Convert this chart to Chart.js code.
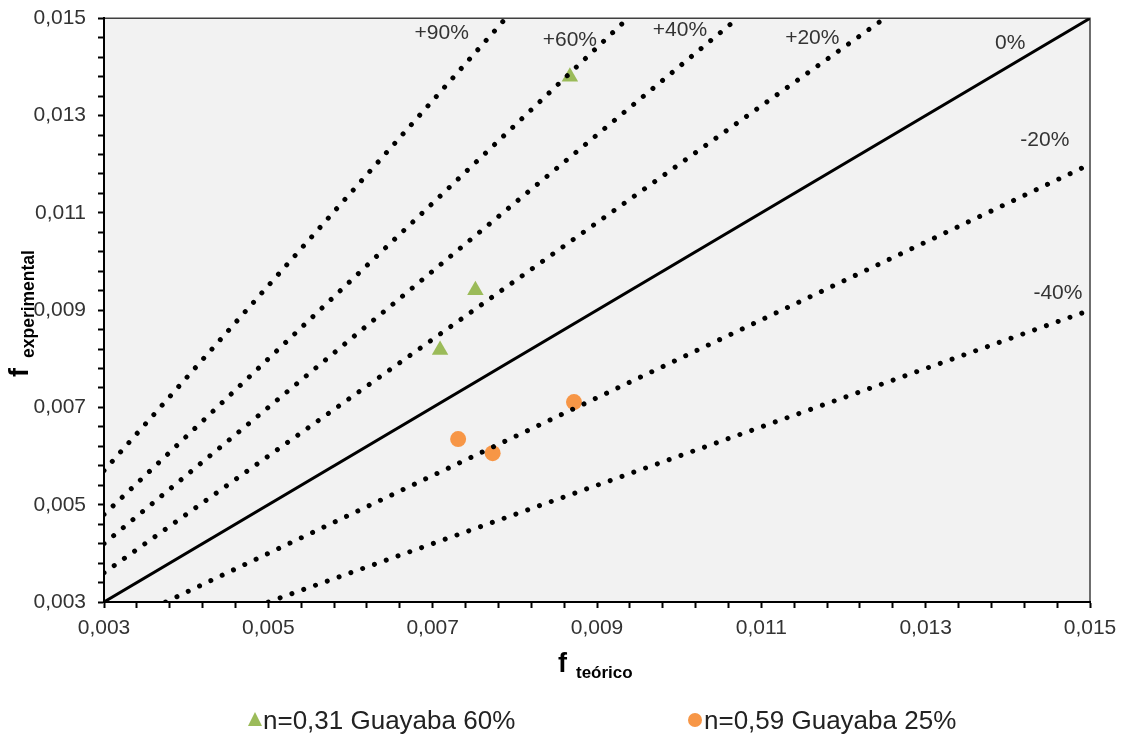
<!DOCTYPE html>
<html>
<head>
<meta charset="utf-8">
<script src="https://cdn.jsdelivr.net/npm/chart.js@4.4.0/dist/chart.umd.min.js"></script>
<style>
  body { margin: 0; background: #fff; }
  #wrap { width: 1125px; height: 735px; }
</style>
</head>
<body>
<div id="wrap"><canvas id="myChart"></canvas></div>
<script>
// measured points (f teorico, f experimental)
const guayaba60X = [0.00867, 0.00752, 0.00709]
const guayaba60Y = [0.0138, 0.00941, 0.00818]
const guayaba25X = [0.00731, 0.00773, 0.00872]
const guayaba25Y = [0.00635, 0.00606, 0.00711]

// deviation lines, start and end
const refNames = ['+90%', '+60%', '+40%', '+20%', '0%', '-20%', '-40%']
const refX = [[0.003, 0.00789], [0.003, 0.009375], [0.003, 0.01071], [0.003, 0.0125], [0.003, 0.015], [0.00375, 0.015], [0.005, 0.015]]
const refY = [[0.0057, 0.015], [0.0048, 0.015], [0.0042, 0.015], [0.0036, 0.015], [0.003, 0.015], [0.003, 0.012], [0.003, 0.009]]
// where the line names sit
const refLabelX = [0.00711, 0.00867, 0.01001, 0.01162, 0.01403, 0.01445, 0.01461]
const refLabelY = [0.01469, 0.01455, 0.01475, 0.01459, 0.01449, 0.01249, 0.00935]

const axisMin = 0.003
const axisMax = 0.015
const minorStep = 0.0004
const tickValues = []
for (let i = 0; axisMin + i * minorStep <= axisMax + 1e-9; i++) {
    tickValues.push(+(axisMin + i * minorStep).toFixed(4))
}

const seriesNames = ['n=0,31 Guayaba 60%', 'n=0,59 Guayaba 25%']
const green = '#9BBB59'
const orange = '#F79646'

function toPoints(xs, ys) {
    return xs.map((x, i) => ({x: x, y: ys[i]}))
}

const datasets = [
    {
        label: seriesNames[0],
        data: toPoints(guayaba60X, guayaba60Y),
        pointStyle: 'triangle',
        pointRadius: 9.5,
        backgroundColor: green,
        borderColor: green,
        borderWidth: 0,
        showLine: false,
        order: 2
    },
    {
        label: seriesNames[1],
        data: toPoints(guayaba25X, guayaba25Y),
        pointStyle: 'circle',
        pointRadius: 8,
        backgroundColor: orange,
        borderColor: orange,
        borderWidth: 0,
        showLine: false,
        order: 2
    }
]
refNames.forEach((name, i) => {
    const solid = name === '0%'
    datasets.push({
        label: name,
        data: toPoints(refX[i], refY[i]),
        showLine: true,
        pointRadius: 0,
        borderColor: '#000',
        borderWidth: solid ? 3 : 5,
        borderDash: solid ? [] : [0.01, 12.5],
        borderCapStyle: solid ? 'butt' : 'round',
        order: 1
    })
})

const plotFrame = {
    id: 'plotFrame',
    beforeDraw(chart) {
        const {ctx, chartArea: a} = chart
        ctx.save()
        ctx.fillStyle = '#F2F2F2'
        ctx.fillRect(a.left, a.top, a.right - a.left, a.bottom - a.top)
        ctx.strokeStyle = '#404040'
        ctx.lineWidth = 1.5
        ctx.beginPath()
        ctx.moveTo(a.left, a.top)
        ctx.lineTo(a.right, a.top)
        ctx.lineTo(a.right, a.bottom)
        ctx.stroke()
        ctx.restore()
    },
    afterDatasetsDraw(chart) {
        const {ctx, scales: {x, y}} = chart
        ctx.save()
        ctx.fillStyle = '#333'
        ctx.font = '21px "Liberation Sans", Arial, sans-serif'
        ctx.textAlign = 'center'
        ctx.textBaseline = 'middle'
        refNames.forEach((name, i) => {
            ctx.fillText(name, x.getPixelForValue(refLabelX[i]), y.getPixelForValue(refLabelY[i]))
        })
        ctx.restore()
    },
    afterDraw(chart) {
        const {ctx} = chart
        ctx.save()
        ctx.fillStyle = '#000'
        ctx.textAlign = 'left'
        ctx.textBaseline = 'alphabetic'
        // x title
        ctx.font = 'bold 27px "Liberation Sans", Arial, sans-serif'
        ctx.fillText('f', 558, 672)
        ctx.font = 'bold 17px "Liberation Sans", Arial, sans-serif'
        ctx.fillText('teórico', 576, 678)
        // y title
        ctx.save()
        ctx.translate(28, 377)
        ctx.rotate(-Math.PI / 2)
        ctx.font = 'bold 27px "Liberation Sans", Arial, sans-serif'
        ctx.fillText('f', 0, 0)
        ctx.restore()
        ctx.save()
        ctx.translate(34, 358)
        ctx.rotate(-Math.PI / 2)
        ctx.font = 'bold 17.5px "Liberation Sans", Arial, sans-serif'
        ctx.fillText('experimental', 0, 0)
        ctx.restore()

        // legend
        ctx.font = '26px "Liberation Sans", Arial, sans-serif'
        ctx.fillStyle = '#222'
        ctx.fillText(seriesNames[0], 263, 729)
        ctx.fillText(seriesNames[1], 704, 729)
        ctx.fillStyle = green
        ctx.beginPath()
        ctx.moveTo(255, 712)
        ctx.lineTo(262, 726)
        ctx.lineTo(248, 726)
        ctx.closePath()
        ctx.fill()
        ctx.fillStyle = orange
        ctx.beginPath()
        ctx.arc(695, 720, 7, 0, Math.PI * 2)
        ctx.fill()
        ctx.restore()
    }
}

function axisOptions(isX) {
    return {
        type: 'linear',
        min: axisMin,
        max: axisMax,
        afterBuildTicks: scale => {
            scale.ticks = tickValues.map(v => ({value: v}))
        },
        afterFit: scale => {
            if (isX) scale.height = 133
            else scale.width = 104
        },
        ticks: {
            autoSkip: false,
            maxRotation: 0,
            padding: isX ? 8 : 12,
            color: '#333',
            font: {family: '"Liberation Sans", Arial, sans-serif', size: 21, lineHeight: isX ? 1.2 : 0.6},
            callback: (value, index) => index % 5 === 0 ? value.toFixed(3).replace('.', ',') : ''
        },
        grid: {
            drawOnChartArea: false,
            drawTicks: true,
            tickLength: 6,
            tickColor: '#000',
            tickWidth: 2
        },
        border: {display: true, color: '#000', width: 2}
    }
}

const ctx = document.getElementById('myChart').getContext('2d')
const myChart = new Chart(ctx, {
    type: 'scatter',
    data: {datasets: datasets},
    options: {
        responsive: true,
        maintainAspectRatio: false,
        animation: false,
        layout: {padding: {left: 0, right: 35, top: 18, bottom: 0}},
        plugins: {
            legend: {display: false},
            tooltip: {enabled: false}
        },
        scales: {
            x: axisOptions(true),
            y: axisOptions(false)
        }
    },
    plugins: [plotFrame]
})
</script>
</body>
</html>
